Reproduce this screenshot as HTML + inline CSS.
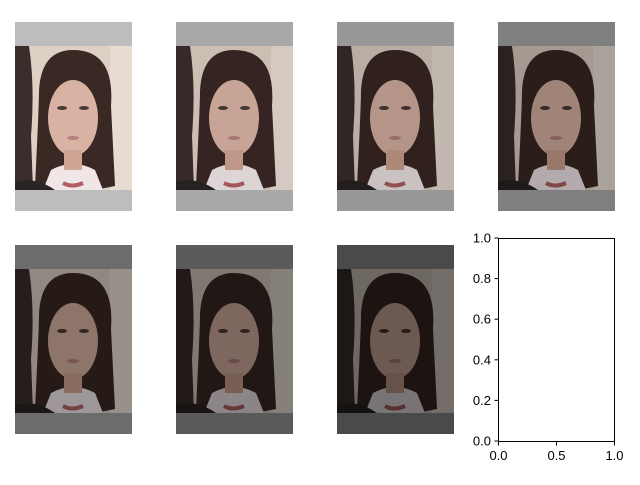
<!DOCTYPE html>
<html><head><meta charset="utf-8"><style>
html,body{margin:0;padding:0;background:#fff;}
svg text{font-family:"Liberation Sans","DejaVu Sans",sans-serif;font-size:13px;fill:#000;}
</style></head><body>
<svg id="fig" width="640" height="480" viewBox="0 0 640 480" xmlns="http://www.w3.org/2000/svg">
<defs>
<g id="photo">
  <rect x="0" y="0" width="117" height="144" fill="#ddd0c4"/>
  <rect x="95" y="0" width="22" height="144" fill="#e6dcd2"/>
  <path d="M0,0 L14,0 Q20,40 16,90 L18,144 L0,144 Z" fill="#3a2e2c"/>
  <path d="M58,4 Q100,4 96,60 L100,140 L80,144 L40,144 L20,140 Q24,60 24,45 Q26,4 58,4 Z" fill="#3a2824"/>
  <ellipse cx="58" cy="72" rx="25" ry="38" fill="#d8b2a2"/>
  <path d="M36,124 Q58,112 80,124 L88,144 L28,144 Z" fill="#f0e6e8"/>
  <rect x="49" y="104" width="18" height="20" fill="#cfa492"/>
  <path d="M48,137 Q57,142 68,137" stroke="#b06060" stroke-width="4" fill="none"/>
  <ellipse cx="47" cy="62" rx="5" ry="2" fill="#4a3a36"/>
  <ellipse cx="69" cy="62" rx="5" ry="2" fill="#4a3a36"/>
  <ellipse cx="58" cy="92" rx="6" ry="2" fill="#b88080"/>
  <path d="M0,136 Q20,130 40,144 L0,144 Z" fill="#2a2424"/>
</g>
</defs>
<g id="panels"></g>
<g>
  <rect x="498.5" y="238.5" width="116" height="203" fill="#fff" stroke="#000" stroke-width="1"/>
  <g id="ticks"></g>
</g>
</svg>
<script>
const panelLevels = [1.0, 0.92, 0.84, 0.74, 0.66, 0.58, 0.5];
const barGrays = [189, 168, 152, 127, 108, 90, 74];
const yTickLabels = ["0.0","0.2","0.4","0.6","0.8","1.0"];
const xTickLabels = ["0.0","0.5","1.0"];
const NS="http://www.w3.org/2000/svg";
const pg=document.getElementById('panels');
const xs=[15,176,337,498], ys=[22,245];
panelLevels.forEach((lv,i)=>{
  const x=xs[i%4], y=ys[Math.floor(i/4)];
  const g=document.createElementNS(NS,'g');
  
  
  g.setAttribute('transform',`translate(${x},${y})`);
  const c=barGrays[i];
  g.innerHTML=`<rect x="0" y="0" width="117" height="24" fill="rgb(${c},${c},${c})"/>
  <use href="#photo" x="0" y="24"/>
  <rect x="0" y="24" width="117" height="144" fill="#000" opacity="${(1-lv).toFixed(2)}"/>
  <rect x="0" y="168" width="117" height="21" fill="rgb(${c},${c},${c})"/>`;
  pg.appendChild(g);
});
const tk=document.getElementById('ticks');
const yS=v=>441-v*203, xS=v=>498.5+v*116;
yTickLabels.forEach(l=>{
  const v=parseFloat(l), y=yS(v);
  const ln=document.createElementNS(NS,'line');
  ln.setAttribute('x1',494.5);ln.setAttribute('x2',498.5);ln.setAttribute('y1',y);ln.setAttribute('y2',y);ln.setAttribute('stroke','#000');
  
  
  tk.appendChild(ln);
  const t=document.createElementNS(NS,'text');
  t.setAttribute('x',491);t.setAttribute('y',y+4.5);t.setAttribute('text-anchor','end');t.textContent=l;
  
  
  tk.appendChild(t);
});
xTickLabels.forEach(l=>{
  const v=parseFloat(l), x=xS(v);
  const ln=document.createElementNS(NS,'line');
  ln.setAttribute('x1',x);ln.setAttribute('x2',x);ln.setAttribute('y1',441.5);ln.setAttribute('y2',445.5);ln.setAttribute('stroke','#000');
  
  
  tk.appendChild(ln);
  const t=document.createElementNS(NS,'text');
  t.setAttribute('x',x);t.setAttribute('y',460);t.setAttribute('text-anchor','middle');t.textContent=l;
  
  
  tk.appendChild(t);
});
</script>
</body></html>
